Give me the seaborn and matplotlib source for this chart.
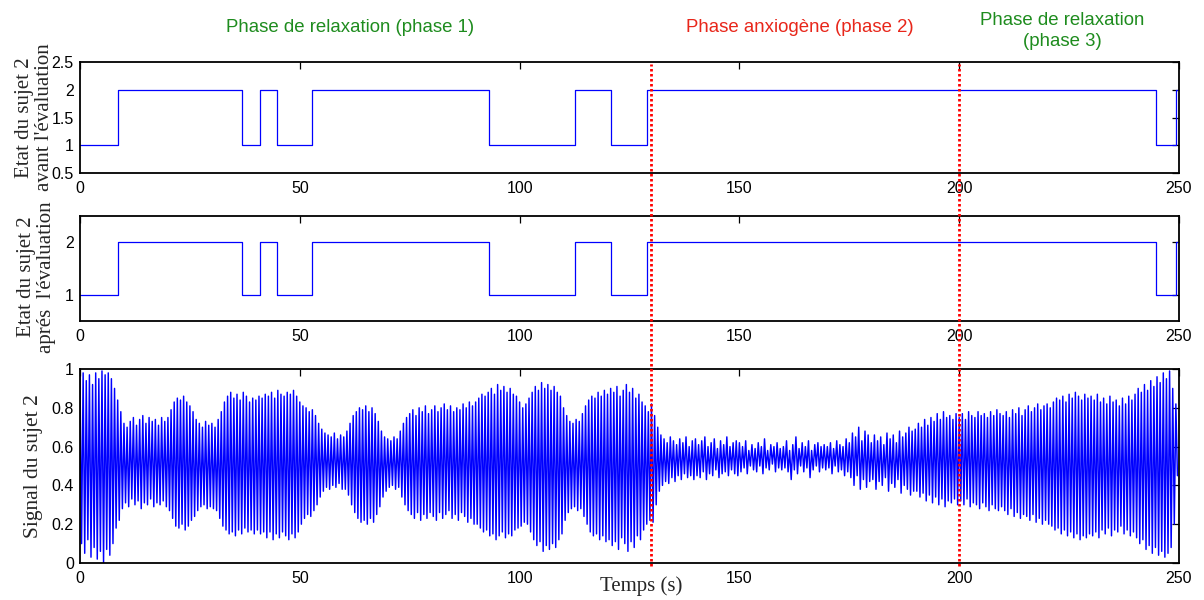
import numpy as np
import pandas as pd
import matplotlib
matplotlib.use("Agg")
import matplotlib.pyplot as plt
import matplotlib.transforms as mtransforms
from matplotlib.lines import Line2D
import seaborn as sns

# ---------------- data ----------------
# subject state (1 / 2) : change instants (s) and state from that instant on
state_times = [0, 8.6, 36.8, 40.9, 44.8, 52.7, 93.0, 112.7, 120.7, 128.9, 244.8, 249.3, 250]
state_before = [1, 2, 1, 2, 1, 2, 1, 2, 1, 2, 1, 2, 2]
state_after = [1, 2, 1, 2, 1, 2, 1, 2, 1, 2, 1, 2, 2]

# signal: successive maxima / minima (14 cycles per 10 s)
signal_peaks = [
    0.96, 0.98, 0.94, 0.97, 0.92, 0.98, 0.95, 0.99, 0.97, 0.98, 0.95, 0.90, 0.84, 0.78,
    0.72, 0.70, 0.73, 0.75, 0.71, 0.74, 0.76, 0.72, 0.75, 0.73, 0.74, 0.71, 0.75, 0.73,
    0.75, 0.79, 0.83, 0.85, 0.84, 0.86, 0.83, 0.81, 0.78, 0.74, 0.72, 0.70, 0.73, 0.71,
    0.72, 0.70, 0.74, 0.78, 0.83, 0.86, 0.88, 0.85, 0.87, 0.84, 0.88, 0.86, 0.83, 0.85,
    0.84, 0.86, 0.85, 0.87, 0.86, 0.88, 0.85, 0.89, 0.87, 0.86, 0.88, 0.87, 0.89, 0.86,
    0.83, 0.81, 0.80, 0.78, 0.79, 0.76, 0.72, 0.69, 0.67, 0.66, 0.65, 0.67, 0.64, 0.66,
    0.65, 0.68, 0.72, 0.76, 0.78, 0.80, 0.79, 0.81, 0.78, 0.80, 0.77, 0.73, 0.68, 0.65,
    0.64, 0.63, 0.65, 0.64, 0.68, 0.72, 0.75, 0.77, 0.79, 0.76, 0.80, 0.78, 0.81, 0.77,
    0.79, 0.81, 0.78, 0.80, 0.82, 0.79, 0.81, 0.78, 0.80, 0.79, 0.82, 0.80, 0.83, 0.81,
    0.83, 0.85, 0.87, 0.86, 0.88, 0.90, 0.87, 0.92, 0.89, 0.91, 0.88, 0.90, 0.87, 0.86,
    0.83, 0.80, 0.82, 0.85, 0.88, 0.91, 0.89, 0.93, 0.90, 0.92, 0.89, 0.91, 0.88, 0.86,
    0.80, 0.76, 0.73, 0.72, 0.74, 0.73, 0.77, 0.81, 0.84, 0.86, 0.85, 0.88, 0.86, 0.89,
    0.87, 0.90, 0.88, 0.91, 0.86, 0.89, 0.92, 0.88, 0.90, 0.85, 0.87, 0.83, 0.81, 0.78,
    0.82, 0.76, 0.70, 0.66, 0.64, 0.62, 0.65, 0.63, 0.61, 0.64, 0.62, 0.65, 0.60, 0.63,
    0.64, 0.61, 0.63, 0.65, 0.60, 0.62, 0.64, 0.59, 0.63, 0.61, 0.65, 0.60, 0.62, 0.63,
    0.62, 0.60, 0.63, 0.58, 0.61, 0.59, 0.62, 0.60, 0.64, 0.58, 0.61, 0.60, 0.62, 0.59,
    0.60, 0.63, 0.58, 0.61, 0.65, 0.59, 0.62, 0.60, 0.63, 0.58, 0.61, 0.62, 0.60, 0.61,
    0.60, 0.62, 0.59, 0.63, 0.61, 0.60, 0.64, 0.62, 0.67, 0.65, 0.70, 0.63, 0.68, 0.66,
    0.62, 0.66, 0.63, 0.65, 0.61, 0.67, 0.64, 0.66, 0.62, 0.68, 0.65, 0.67, 0.70, 0.68,
    0.69, 0.72, 0.70, 0.74, 0.71, 0.75, 0.73, 0.77, 0.74, 0.78, 0.75, 0.76, 0.74, 0.77,
    0.75, 0.77, 0.74, 0.78, 0.76, 0.75, 0.78, 0.76, 0.77, 0.75, 0.78, 0.76, 0.79, 0.77,
    0.76, 0.78, 0.75, 0.79, 0.77, 0.80, 0.76, 0.79, 0.81, 0.78, 0.80, 0.82, 0.79, 0.81,
    0.82, 0.80, 0.83, 0.85, 0.84, 0.86, 0.83, 0.87, 0.85, 0.88, 0.86, 0.84, 0.87, 0.85,
    0.86, 0.84, 0.87, 0.83, 0.85, 0.82, 0.86, 0.83, 0.84, 0.81, 0.85, 0.82, 0.86, 0.84,
    0.87, 0.90, 0.88, 0.92, 0.89, 0.94, 0.91, 0.96, 0.93, 0.98, 0.95, 0.99, 0.90, 0.82,
]
signal_troughs = [
    0.10, 0.05, 0.12, 0.03, 0.08, 0.02, 0.06, 0.00, 0.07, 0.04, 0.10, 0.18, 0.22, 0.28,
    0.31, 0.29, 0.33, 0.30, 0.32, 0.28, 0.31, 0.30, 0.33, 0.29, 0.31, 0.30, 0.32, 0.29,
    0.27, 0.23, 0.19, 0.18, 0.20, 0.17, 0.19, 0.22, 0.24, 0.27, 0.29, 0.30, 0.28, 0.29,
    0.28, 0.27, 0.23, 0.19, 0.17, 0.15, 0.16, 0.14, 0.17, 0.15, 0.18, 0.16, 0.17, 0.15,
    0.17, 0.15, 0.16, 0.13, 0.16, 0.12, 0.15, 0.13, 0.16, 0.14, 0.12, 0.15, 0.13, 0.16,
    0.20, 0.23, 0.25, 0.24, 0.27, 0.30, 0.34, 0.37, 0.39, 0.38, 0.40, 0.39, 0.41, 0.38,
    0.38, 0.35, 0.30, 0.26, 0.23, 0.21, 0.22, 0.20, 0.23, 0.21, 0.25, 0.29, 0.34, 0.37,
    0.39, 0.40, 0.38, 0.39, 0.34, 0.30, 0.27, 0.25, 0.23, 0.26, 0.22, 0.25, 0.23, 0.26,
    0.24, 0.22, 0.26, 0.23, 0.25, 0.27, 0.23, 0.25, 0.22, 0.26, 0.24, 0.21, 0.23, 0.20,
    0.20, 0.18, 0.16, 0.17, 0.14, 0.15, 0.12, 0.14, 0.16, 0.13, 0.15, 0.14, 0.17, 0.18,
    0.19, 0.21, 0.20, 0.16, 0.12, 0.09, 0.11, 0.06, 0.09, 0.07, 0.10, 0.08, 0.12, 0.15,
    0.22, 0.26, 0.28, 0.29, 0.27, 0.28, 0.24, 0.20, 0.16, 0.14, 0.15, 0.12, 0.14, 0.11,
    0.12, 0.09, 0.11, 0.07, 0.13, 0.10, 0.06, 0.11, 0.08, 0.14, 0.12, 0.17, 0.20, 0.22,
    0.21, 0.30, 0.37, 0.40, 0.42, 0.41, 0.44, 0.42, 0.45, 0.43, 0.46, 0.44, 0.45, 0.43,
    0.45, 0.44, 0.47, 0.43, 0.46, 0.45, 0.48, 0.44, 0.46, 0.47, 0.45, 0.48, 0.46, 0.45,
    0.47, 0.49, 0.46, 0.50, 0.48, 0.47, 0.50, 0.46, 0.49, 0.48, 0.51, 0.47, 0.49, 0.48,
    0.49, 0.47, 0.43, 0.48, 0.46, 0.50, 0.47, 0.49, 0.44, 0.48, 0.50, 0.47, 0.49, 0.48,
    0.49, 0.46, 0.50, 0.47, 0.48, 0.45, 0.47, 0.44, 0.40, 0.45, 0.38, 0.43, 0.39, 0.42,
    0.43, 0.38, 0.42, 0.40, 0.44, 0.37, 0.41, 0.39, 0.43, 0.36, 0.40, 0.38, 0.35, 0.37,
    0.37, 0.34, 0.36, 0.32, 0.35, 0.31, 0.34, 0.30, 0.33, 0.29, 0.32, 0.31, 0.33, 0.30,
    0.32, 0.30, 0.33, 0.29, 0.31, 0.30, 0.28, 0.31, 0.29, 0.27, 0.30, 0.28, 0.27, 0.29,
    0.27, 0.25, 0.28, 0.24, 0.26, 0.23, 0.25, 0.24, 0.22, 0.25, 0.21, 0.23, 0.20, 0.22,
    0.20, 0.19, 0.17, 0.18, 0.15, 0.17, 0.14, 0.16, 0.13, 0.15, 0.12, 0.14, 0.13, 0.15,
    0.14, 0.16, 0.13, 0.17, 0.15, 0.18, 0.14, 0.17, 0.16, 0.19, 0.15, 0.17, 0.14, 0.16,
    0.13, 0.10, 0.12, 0.07, 0.09, 0.05, 0.08, 0.04, 0.06, 0.03, 0.05, 0.08, 0.20, 0.45,
]
duration = 250.0
phase_bounds = [130, 200]
phase_labels = ["Phase de relaxation (phase 1)", "Phase anxiogène (phase 2)",
                "Phase de relaxation\n(phase 3)"]
xticks = [0, 50, 100, 150, 200, 250]
yticks_top = [0.5, 1, 1.5, 2, 2.5]
yticks_top_labels = ["0.5", "1", "1.5", "2", "2.5"]
yticks_mid = [1, 2]
yticks_mid_labels = ["1", "2"]
yticks_sig = [0, 0.2, 0.4, 0.6, 0.8, 1.0]
yticks_sig_labels = ["0", "0.2", "0.4", "0.6", "0.8", "1"]

# ---------------- build frames ----------------
vals = np.empty(2 * len(signal_peaks))
vals[0::2] = signal_peaks
vals[1::2] = signal_troughs
t_sig = np.arange(len(vals)) * duration / len(vals)
df_sig = pd.DataFrame({"t": t_sig, "v": vals})
df_before = pd.DataFrame({"t": state_times, "v": state_before})
df_after = pd.DataFrame({"t": state_times, "v": state_after})

# ---------------- style ----------------
sns.set_style("white")
plt.rcParams["font.family"] = ["Liberation Sans", "DejaVu Sans"]
plt.rcParams["axes.linewidth"] = 1.3
plt.rcParams["axes.edgecolor"] = "black"

BLUE = "#0000FF"
serif = ["Liberation Serif", "DejaVu Serif"]
green = "#1E8C1E"
red = "#E8261A"

fig = plt.figure(figsize=(12.04, 6.0), dpi=100)
left, width = 80 / 1204, 1099 / 1204
ax1 = fig.add_axes([left, 1 - 173 / 600, width, 111 / 600])
ax2 = fig.add_axes([left, 1 - 321 / 600, width, 105 / 600])
ax3 = fig.add_axes([left, 1 - 563 / 600, width, 194 / 600])

sns.lineplot(data=df_before, x="t", y="v", ax=ax1, color=BLUE, lw=0.9,
             drawstyle="steps-post", estimator=None)
sns.lineplot(data=df_after, x="t", y="v", ax=ax2, color=BLUE, lw=0.9,
             drawstyle="steps-post", estimator=None)
sns.lineplot(data=df_sig, x="t", y="v", ax=ax3, color=BLUE, lw=1.05,
             estimator=None, sort=False)

ax1.set_ylim(0.5, 2.5)
ax1.set_yticks(yticks_top, yticks_top_labels)
ax2.set_ylim(0.5, 2.5)
ax2.set_yticks(yticks_mid, yticks_mid_labels)
ax3.set_ylim(0, 1)
ax3.set_yticks(yticks_sig, yticks_sig_labels)

for ax in (ax1, ax2, ax3):
    ax.set_xlim(0, duration)
    ax.set_xticks(xticks, [str(x) for x in xticks])
    ax.tick_params(direction="in", top=True, right=True, length=5, width=0.9,
                   labelsize=11.5, colors="black")
    ax.tick_params(axis="x", pad=6)
    ax.tick_params(axis="y", pad=4.5)
    for s in ax.spines.values():
        s.set_visible(True)
        s.set_color("black")
    ax.set_xlabel("")

ax1.set_ylabel("Etat du sujet 2\navant l'évaluation", family=serif, fontsize=15,
               linespacing=1.05)
ax1.yaxis.set_label_coords(-0.024, 0.5)
ax2.set_ylabel("Etat du sujet 2\naprés  l'évaluation", family=serif, fontsize=15,
               linespacing=1.05)
ax2.yaxis.set_label_coords(-0.022, 0.42)
ax3.set_ylabel("Signal du sujet 2", family=serif, fontsize=15.5)
ax3.yaxis.set_label_coords(-0.034, 0.5)
ax3.set_xlabel("Temps (s)", family=serif, fontsize=15)
ax3.xaxis.set_label_coords(0.511, -0.068)

# phase boundaries across all panels
blend = mtransforms.blended_transform_factory(ax3.transData, fig.transFigure)
for xb in phase_bounds:
    fig.add_artist(Line2D([xb, xb], [1 - 566 / 600, 1 - 64 / 600], transform=blend,
                          color="#FF0000", lw=2.0, linestyle=(0, (0.9, 0.9))))

fig.text(350 / 1204, 1 - 28 / 600, phase_labels[0], color=green, fontsize=13.4,
         ha="center", va="center")
fig.text(800 / 1204, 1 - 28 / 600, phase_labels[1], color=red, fontsize=13.4,
         ha="center", va="center")
fig.text(1062 / 1204, 1 - 31 / 600, phase_labels[2], color=green, fontsize=13.4,
         ha="center", va="center", linespacing=1.3)

fig.savefig("out.png", dpi=100)
